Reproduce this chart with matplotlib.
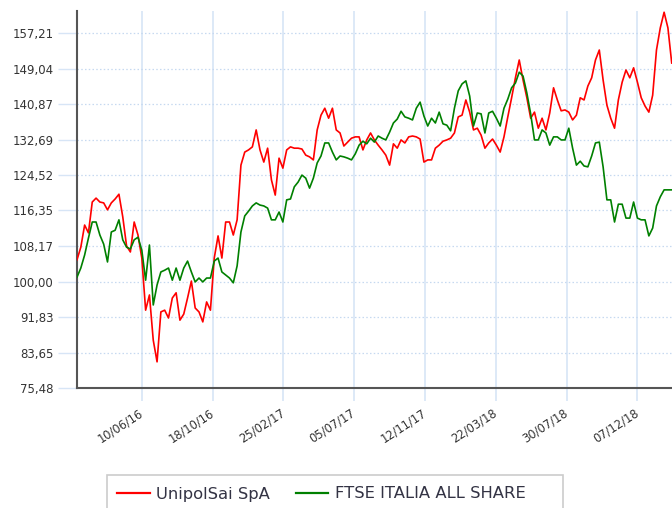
import matplotlib
matplotlib.use("Agg")
import matplotlib.pyplot as plt
import matplotlib.dates as mdates
from matplotlib.lines import Line2D
from matplotlib.patches import Rectangle
import pandas as pd

# ---------------- data (weekly) ----------------
start_date = "2016-02-12"
n_weeks = 157

unipol = [
    105.0, 107.9, 113.0, 111.2, 118.3, 119.2, 118.3, 118.1, 116.5, 118.1,
    119.0, 120.1, 114.9, 108.2, 106.8, 113.7, 110.7, 105.4, 93.4, 96.9,
    86.5, 81.5, 93.0, 93.4, 91.6, 96.2, 97.4, 91.1, 92.5, 96.2,
    100.1, 93.9, 93.0, 90.7, 95.3, 93.4, 105.4, 110.5, 105.4, 113.7,
    113.7, 110.7, 114.2, 126.8, 129.8, 130.3, 131.0, 134.9, 130.3, 127.5,
    130.7, 123.4, 119.9, 128.4, 126.1, 130.3, 131.0, 130.7, 130.7, 130.5,
    129.1, 128.7, 128.0, 134.9, 138.3, 139.9, 137.6, 139.9, 134.9, 134.2,
    131.2, 132.1, 133.0, 133.3, 133.3, 130.3, 132.6, 134.2, 132.6, 131.4,
    130.3, 129.1, 126.8, 131.7, 130.7, 132.6, 131.9, 133.3, 133.5, 133.3,
    132.8, 127.5, 128.0, 128.0, 130.7, 131.4, 132.3, 132.6, 133.0, 134.2,
    137.9, 138.3, 141.8, 139.0, 134.9, 135.3, 133.7, 130.7, 131.9, 132.8,
    131.4, 129.8, 133.3, 137.9, 142.3, 146.9, 151.0, 146.4, 142.3, 137.6,
    139.0, 135.3, 137.6, 134.9, 138.8, 144.6, 141.8, 139.3, 139.5, 139.0,
    137.2, 138.3, 142.3, 141.8, 145.0, 146.9, 151.0, 153.3, 146.4, 140.6,
    137.6, 135.3, 141.8, 145.9, 148.7, 146.9, 149.2, 145.9, 142.3, 140.4,
    139.0, 142.9, 153.3, 158.4, 162.0, 158.4, 150.3,
]

ftse = [
    101.0, 103.1, 106.1, 110.0, 113.7, 113.7, 110.7, 108.6, 104.5, 111.4,
    111.8, 114.2, 109.6, 107.9, 107.5, 109.6, 110.2, 107.2, 100.3, 108.4,
    94.6, 99.2, 102.2, 102.6, 103.1, 100.3, 103.1, 100.3, 103.1, 104.7,
    102.2, 99.9, 100.8, 99.9, 100.8, 100.8, 104.7, 105.4, 102.2, 101.5,
    100.8, 99.7, 103.6, 111.4, 115.1, 116.2, 117.4, 118.1, 117.6, 117.4,
    116.9, 114.2, 114.2, 116.0, 113.7, 118.8, 119.0, 121.8, 122.9, 124.5,
    123.8, 121.5, 123.8, 127.3, 128.9, 131.9, 131.9, 129.8, 128.0, 128.9,
    128.7, 128.4, 128.0, 129.4, 131.4, 132.3, 131.7, 133.0, 132.1, 133.5,
    133.0, 132.6, 134.4, 136.5, 137.4, 139.2, 137.9, 137.6, 137.2, 139.9,
    141.3, 138.1, 135.8, 137.6, 136.5, 139.0, 136.3, 136.0, 134.7, 139.9,
    143.9, 145.5, 146.2, 142.7, 135.8, 138.8, 138.6, 134.2, 138.8, 139.2,
    137.6, 135.8, 139.9, 142.0, 144.6, 145.7, 148.2, 147.3, 143.4, 138.6,
    132.6, 132.6, 134.9, 134.2, 131.4, 133.3, 133.3, 132.6, 132.6, 135.3,
    130.7, 126.8, 127.7, 126.6, 126.4, 128.9, 131.9, 132.1, 126.4, 118.8,
    118.8, 113.7, 117.8, 117.8, 114.6, 114.6, 118.3, 114.6, 114.2, 114.2,
    110.5, 112.3, 117.4, 119.5, 121.1, 121.1, 121.1,
]

series_names = ["UnipolSai SpA", "FTSE ITALIA ALL SHARE"]
series_colors = ["#ff0000", "#008000"]

x_tick_labels = ["10/06/16", "18/10/16", "25/02/17", "05/07/17",
                 "12/11/17", "22/03/18", "30/07/18", "07/12/18"]
y_ticks = [75.48, 83.65, 91.83, 100.00, 108.17, 116.35,
           124.52, 132.69, 140.87, 149.04, 157.21]
y_max = 162.4

# ---------------- figure ----------------
dates = pd.date_range(start_date, periods=n_weeks, freq="7D")

fig = plt.figure(figsize=(6.72, 5.08), dpi=100)
fig.patch.set_facecolor("white")
ax = fig.add_axes([77 / 672, 120 / 508, 1 - 77 / 672, (497.5 - 120) / 508])

grid_blue = "#d7e5f6"
ax.plot(dates, unipol, color=series_colors[0], lw=1.2, zorder=3)
ax.plot(dates, ftse, color=series_colors[1], lw=1.2, zorder=4)

ax.set_xlim(dates[0], dates[-1] + pd.Timedelta(days=0.5))
ax.set_ylim(y_ticks[0], y_max)

tick_dates = pd.to_datetime(x_tick_labels, format="%d/%m/%y")
ax.set_xticks(mdates.date2num(tick_dates))
ax.set_xticklabels(x_tick_labels, rotation=33, ha="right", va="center",
                   rotation_mode="anchor", fontsize=8.3, color="#333333")
ax.set_yticks(y_ticks)
ax.set_yticklabels([f"{v:.2f}".replace(".", ",") for v in y_ticks],
                   fontsize=8.5, color="#333333")

ax.tick_params(axis="y", length=14, width=1.0, color=grid_blue, pad=3)
ax.tick_params(axis="x", length=9, width=1.2, color=grid_blue, pad=8)

ax.grid(axis="y", color="#c6d9f0", linestyle=(0, (1.2, 1.8)), lw=0.9, zorder=0)
ax.grid(axis="x", color=grid_blue, linestyle="-", lw=1.2, zorder=0)
ax.set_axisbelow(True)

for s in ["top", "right"]:
    ax.spines[s].set_visible(False)
for s in ["left", "bottom"]:
    ax.spines[s].set_color("#555555")
    ax.spines[s].set_linewidth(1.5)

# ---------------- legend ----------------
fig.patches.append(Rectangle((107 / 672, -0.05), 456 / 672, 0.05 + 1 - 475 / 508,
                             transform=fig.transFigure, facecolor="white",
                             edgecolor="#cccccc", lw=1.2, zorder=0))
handles = [Line2D([], [], color=c, lw=1.6) for c in series_colors]
fig.legend(handles, series_names, loc="center left",
           bbox_to_anchor=(117 / 672, 1 - 494 / 508), ncol=2, frameon=False,
           fontsize=11.8, handlelength=2.0, handletextpad=0.4,
           columnspacing=1.55, borderpad=0, borderaxespad=0,
           labelcolor="#333344")

fig.savefig("out.png", dpi=100)
